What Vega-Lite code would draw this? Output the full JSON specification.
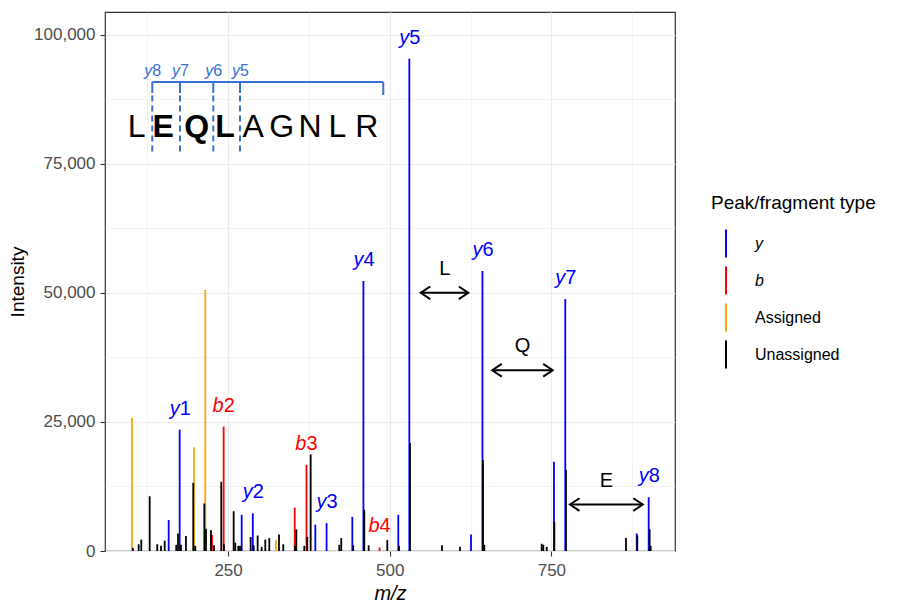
{
  "$schema": "https://vega.github.io/schema/vega-lite/v6.json",
  "width": 570,
  "height": 539,
  "autosize": {"type": "none"},
  "padding": {"left": 105, "top": 12, "right": 231, "bottom": 53},
  "background": "white",
  "config": {
    "font": "Liberation Sans",
    "view": {"stroke": "#333333", "strokeWidth": 1.2},
    "axis": {
      "domain": false,
      "tickColor": "#333333",
      "tickSize": 5,
      "tickWidth": 1.1,
      "labelColor": "#4D4D4D",
      "labelFontSize": 17,
      "labelFont": "Liberation Sans",
      "titleFont": "Liberation Sans",
      "titleFontWeight": "normal",
      "titleColor": "#000000",
      "titleFontSize": 19,
      "gridColor": "#EBEBEB",
      "labelPadding": 4
    },
    "text": {"font": "Liberation Sans"}
  },
  "datasets": {
    "peaks": [
      {"mz": 158.1, "intensity": 6000, "type": "y"},
      {"mz": 175.1, "intensity": 23500, "type": "y", "num": "1"},
      {"mz": 271.0, "intensity": 7000, "type": "y"},
      {"mz": 288.2, "intensity": 7300, "type": "y", "num": "2"},
      {"mz": 384.9, "intensity": 5100, "type": "y"},
      {"mz": 402.3, "intensity": 5400, "type": "y", "num": "3"},
      {"mz": 442.1, "intensity": 6600, "type": "y"},
      {"mz": 459.3, "intensity": 52300, "type": "y", "num": "4"},
      {"mz": 513.2, "intensity": 7000, "type": "y"},
      {"mz": 530.3, "intensity": 95300, "type": "y", "num": "5"},
      {"mz": 625.7, "intensity": 3200, "type": "y"},
      {"mz": 643.4, "intensity": 54200, "type": "y", "num": "6"},
      {"mz": 754.0, "intensity": 17300, "type": "y"},
      {"mz": 771.5, "intensity": 48800, "type": "y", "num": "7"},
      {"mz": 882.0, "intensity": 3400, "type": "y"},
      {"mz": 900.5, "intensity": 10400, "type": "y", "num": "8"},
      {"mz": 225.1, "intensity": 3100, "type": "b"},
      {"mz": 243.1, "intensity": 24100, "type": "b", "num": "2"},
      {"mz": 353.0, "intensity": 8400, "type": "b"},
      {"mz": 371.2, "intensity": 16700, "type": "b", "num": "3"},
      {"mz": 484.3, "intensity": 700, "type": "b", "num": "4"},
      {"mz": 101.3, "intensity": 25800, "type": "Assigned"},
      {"mz": 197.2, "intensity": 20100, "type": "Assigned"},
      {"mz": 214.7, "intensity": 50600, "type": "Assigned"},
      {"mz": 324.0, "intensity": 2200, "type": "Assigned"},
      {"mz": 102.7, "intensity": 600, "type": "Unassigned"},
      {"mz": 111.7, "intensity": 1300, "type": "Unassigned"},
      {"mz": 115.7, "intensity": 2200, "type": "Unassigned"},
      {"mz": 128.7, "intensity": 10600, "type": "Unassigned"},
      {"mz": 140.4, "intensity": 1300, "type": "Unassigned"},
      {"mz": 146.2, "intensity": 1000, "type": "Unassigned"},
      {"mz": 151.9, "intensity": 2000, "type": "Unassigned"},
      {"mz": 169.8, "intensity": 1200, "type": "Unassigned"},
      {"mz": 172.5, "intensity": 3400, "type": "Unassigned"},
      {"mz": 177.1, "intensity": 1200, "type": "Unassigned"},
      {"mz": 184.8, "intensity": 2900, "type": "Unassigned"},
      {"mz": 196.1, "intensity": 13200, "type": "Unassigned"},
      {"mz": 199.2, "intensity": 1000, "type": "Unassigned"},
      {"mz": 213.2, "intensity": 9200, "type": "Unassigned"},
      {"mz": 215.8, "intensity": 4300, "type": "Unassigned"},
      {"mz": 223.5, "intensity": 4000, "type": "Unassigned"},
      {"mz": 228.2, "intensity": 1100, "type": "Unassigned"},
      {"mz": 239.4, "intensity": 13400, "type": "Unassigned"},
      {"mz": 243.6, "intensity": 1300, "type": "Unassigned"},
      {"mz": 258.6, "intensity": 7700, "type": "Unassigned"},
      {"mz": 261.1, "intensity": 1600, "type": "Unassigned"},
      {"mz": 265.7, "intensity": 1000, "type": "Unassigned"},
      {"mz": 268.4, "intensity": 1000, "type": "Unassigned"},
      {"mz": 284.9, "intensity": 2700, "type": "Unassigned"},
      {"mz": 289.6, "intensity": 1100, "type": "Unassigned"},
      {"mz": 295.7, "intensity": 3000, "type": "Unassigned"},
      {"mz": 301.9, "intensity": 800, "type": "Unassigned"},
      {"mz": 307.5, "intensity": 2200, "type": "Unassigned"},
      {"mz": 313.7, "intensity": 2500, "type": "Unassigned"},
      {"mz": 328.7, "intensity": 3200, "type": "Unassigned"},
      {"mz": 335.3, "intensity": 1300, "type": "Unassigned"},
      {"mz": 353.5, "intensity": 1000, "type": "Unassigned"},
      {"mz": 355.5, "intensity": 4200, "type": "Unassigned"},
      {"mz": 367.8, "intensity": 1000, "type": "Unassigned"},
      {"mz": 372.5, "intensity": 2700, "type": "Unassigned"},
      {"mz": 377.7, "intensity": 18700, "type": "Unassigned"},
      {"mz": 422.0, "intensity": 1200, "type": "Unassigned"},
      {"mz": 425.0, "intensity": 2500, "type": "Unassigned"},
      {"mz": 443.6, "intensity": 1100, "type": "Unassigned"},
      {"mz": 460.6, "intensity": 8000, "type": "Unassigned"},
      {"mz": 467.4, "intensity": 1100, "type": "Unassigned"},
      {"mz": 496.2, "intensity": 2100, "type": "Unassigned"},
      {"mz": 514.3, "intensity": 1000, "type": "Unassigned"},
      {"mz": 531.3, "intensity": 20900, "type": "Unassigned"},
      {"mz": 580.8, "intensity": 1100, "type": "Unassigned"},
      {"mz": 608.7, "intensity": 800, "type": "Unassigned"},
      {"mz": 644.2, "intensity": 17600, "type": "Unassigned"},
      {"mz": 646.3, "intensity": 1200, "type": "Unassigned"},
      {"mz": 735.0, "intensity": 1400, "type": "Unassigned"},
      {"mz": 737.5, "intensity": 1200, "type": "Unassigned"},
      {"mz": 742.8, "intensity": 800, "type": "Unassigned"},
      {"mz": 754.6, "intensity": 5600, "type": "Unassigned"},
      {"mz": 772.6, "intensity": 15700, "type": "Unassigned"},
      {"mz": 865.4, "intensity": 2500, "type": "Unassigned"},
      {"mz": 882.9, "intensity": 3000, "type": "Unassigned"},
      {"mz": 902.0, "intensity": 4200, "type": "Unassigned"},
      {"mz": 903.6, "intensity": 1000, "type": "Unassigned"}
    ],
    "cuts": [
      {"pos": 132.7, "num": "8"},
      {"pos": 175.6, "num": "7"},
      {"pos": 227.1, "num": "6"},
      {"pos": 268.4, "num": "5"}
    ],
    "bracket": [
      {"start": 132.7, "end": 490.0}
    ],
    "peptide": [
      {"aa": "L", "pos": 108.6, "bold": false},
      {"aa": "E", "pos": 149.7, "bold": true},
      {"aa": "Q", "pos": 201.4, "bold": true},
      {"aa": "L", "pos": 245.2, "bold": true},
      {"aa": "A", "pos": 288.9, "bold": false},
      {"aa": "G", "pos": 332.9, "bold": false},
      {"aa": "N", "pos": 376.6, "bold": false},
      {"aa": "L", "pos": 418.9, "bold": false},
      {"aa": "R", "pos": 464.4, "bold": false}
    ],
    "arrows": [
      {"aa": "L", "from": 548.0, "to": 621.5, "mid": 585.0, "level": 50000},
      {"aa": "Q", "from": 658.6, "to": 752.0, "mid": 705.3, "level": 35000},
      {"aa": "E", "from": 778.8, "to": 891.3, "mid": 835.0, "level": 9000}
    ]
  },
  "layer": [
    {
      "data": {"name": "peaks"},
      "mark": {"type": "rule", "strokeWidth": 1.8},
      "encoding": {
        "x": {
          "field": "mz",
          "type": "quantitative",
          "title": "m/z",
          "scale": {"domain": [59.6, 941.2], "nice": false, "zero": false},
          "axis": {
            "title": "m/z",
            "titleFontStyle": "italic",
            "titleFontSize": 20,
            "titlePadding": 5,
            "labelPadding": 6,
            "values": [125, 250, 375, 500, 625, 750, 875],
            "labelExpr": "datum.value % 250 === 0 ? format(datum.value, 'd') : ''",
            "tickOpacity": {"condition": {"test": "datum.value % 250 !== 0", "value": 0}, "value": 1},
            "gridWidth": {"condition": {"test": "datum.value % 250 !== 0", "value": 0.6}, "value": 1.2}
          }
        },
        "y": {
          "field": "intensity",
          "type": "quantitative",
          "title": "Intensity",
          "scale": {"domain": [0, 104375], "nice": false, "zero": true},
          "axis": {
            "title": "Intensity",
            "titlePadding": 6,
            "labelPadding": 5,
            "values": [0, 12500, 25000, 37500, 50000, 62500, 75000, 87500, 100000],
            "labelExpr": "datum.value % 25000 === 0 ? format(datum.value, ',') : ''",
            "tickOpacity": {"condition": {"test": "datum.value % 25000 !== 0", "value": 0}, "value": 1},
            "gridWidth": {"condition": {"test": "datum.value % 25000 !== 0", "value": 0.6}, "value": 1.2}
          }
        },
        "y2": {"datum": 0},
        "color": {
          "field": "type",
          "type": "nominal",
          "scale": {"domain": ["y", "b", "Assigned", "Unassigned"], "range": ["#0000FF", "#FF0000", "#FFA500", "#000000"]},
          "legend": {
            "title": "Peak/fragment type",
            "orient": "none",
            "legendX": 606,
            "legendY": 181.5,
            "padding": 0,
            "symbolType": "M0,-1L0,1",
            "symbolSize": 784,
            "symbolStrokeWidth": 2,
            "labelFontSize": 16,
            "labelColor": "#000000",
            "labelOffset": 14,
            "titleFontSize": 19,
            "titleFontWeight": "normal",
            "titleColor": "#000000",
            "titlePadding": 16,
            "rowPadding": 1,
            "encode": {"labels": {"update": {"fontStyle": {"signal": "datum.label === 'y' || datum.label === 'b' ? 'italic' : 'normal'"}}}}
          }
        }
      }
    },
    {
      "data": {"name": "peaks"},
      "transform": [{"filter": "isValid(datum.num)"}],
      "mark": {"type": "text", "align": "right", "baseline": "middle", "dy": -21, "fontSize": 20, "fontStyle": "italic"},
      "encoding": {
        "x": {"field": "mz", "type": "quantitative", "title": "m/z"},
        "y": {"field": "intensity", "type": "quantitative", "title": "Intensity"},
        "text": {"field": "type"},
        "color": {"condition": {"test": "datum.type === 'y'", "value": "#0000FF"}, "value": "#FF0000"}
      }
    },
    {
      "data": {"name": "peaks"},
      "transform": [{"filter": "isValid(datum.num)"}],
      "mark": {"type": "text", "align": "left", "baseline": "middle", "dy": -21, "fontSize": 20},
      "encoding": {
        "x": {"field": "mz", "type": "quantitative", "title": "m/z"},
        "y": {"field": "intensity", "type": "quantitative", "title": "Intensity"},
        "text": {"field": "num"},
        "color": {"condition": {"test": "datum.type === 'y'", "value": "#0000FF"}, "value": "#FF0000"}
      }
    },
    {
      "data": {"name": "bracket"},
      "mark": {"type": "rule", "strokeWidth": 2, "color": "#3A6FD2"},
      "encoding": {
        "x": {"field": "start", "type": "quantitative", "title": "m/z"},
        "x2": {"field": "end"},
        "y": {"datum": 90800, "type": "quantitative", "title": "Intensity"}
      }
    },
    {
      "data": {"name": "bracket"},
      "mark": {"type": "rule", "strokeWidth": 2, "color": "#3A6FD2"},
      "encoding": {
        "x": {"field": "end", "type": "quantitative", "title": "m/z"},
        "y": {"datum": 90800, "type": "quantitative", "title": "Intensity"},
        "y2": {"datum": 88300}
      }
    },
    {
      "data": {"name": "cuts"},
      "mark": {"type": "rule", "strokeWidth": 2, "color": "#3A6FD2"},
      "encoding": {
        "x": {"field": "pos", "type": "quantitative", "title": "m/z"},
        "y": {"datum": 90800, "type": "quantitative", "title": "Intensity"},
        "y2": {"datum": 88700}
      }
    },
    {
      "data": {"name": "cuts"},
      "mark": {"type": "rule", "strokeWidth": 2, "color": "#3A6FD2", "strokeDash": [6, 4]},
      "encoding": {
        "x": {"field": "pos", "type": "quantitative", "title": "m/z"},
        "y": {"datum": 88200, "type": "quantitative", "title": "Intensity"},
        "y2": {"datum": 76600}
      }
    },
    {
      "data": {"name": "cuts"},
      "mark": {"type": "text", "align": "right", "baseline": "middle", "fontSize": 16, "fontStyle": "italic", "color": "#3A6FD2"},
      "encoding": {
        "x": {"field": "pos", "type": "quantitative", "title": "m/z"},
        "y": {"datum": 92900, "type": "quantitative", "title": "Intensity"},
        "text": {"value": "y"}
      }
    },
    {
      "data": {"name": "cuts"},
      "mark": {"type": "text", "align": "left", "baseline": "middle", "fontSize": 16, "color": "#3A6FD2"},
      "encoding": {
        "x": {"field": "pos", "type": "quantitative", "title": "m/z"},
        "y": {"datum": 92900, "type": "quantitative", "title": "Intensity"},
        "text": {"field": "num"}
      }
    },
    {
      "data": {"name": "peptide"},
      "transform": [{"filter": "!datum.bold"}],
      "mark": {"type": "text", "align": "center", "baseline": "middle", "fontSize": 32, "color": "#000000"},
      "encoding": {
        "x": {"field": "pos", "type": "quantitative", "title": "m/z"},
        "y": {"datum": 82100, "type": "quantitative", "title": "Intensity"},
        "text": {"field": "aa"}
      }
    },
    {
      "data": {"name": "peptide"},
      "transform": [{"filter": "datum.bold"}],
      "mark": {"type": "text", "align": "center", "baseline": "middle", "fontSize": 32, "fontWeight": "bold", "color": "#000000"},
      "encoding": {
        "x": {"field": "pos", "type": "quantitative", "title": "m/z"},
        "y": {"datum": 82100, "type": "quantitative", "title": "Intensity"},
        "text": {"field": "aa"}
      }
    },
    {
      "data": {"name": "arrows"},
      "mark": {"type": "rule", "strokeWidth": 2, "color": "#000000"},
      "encoding": {
        "x": {"field": "from", "type": "quantitative", "title": "m/z"},
        "x2": {"field": "to"},
        "y": {"field": "level", "type": "quantitative", "title": "Intensity"}
      }
    },
    {
      "data": {"name": "arrows"},
      "mark": {"type": "point", "shape": "M1.5,-1L0,0L1.5,1", "size": 159, "filled": false, "strokeWidth": 2, "color": "#000000", "opacity": 1},
      "encoding": {
        "x": {"field": "from", "type": "quantitative", "title": "m/z"},
        "y": {"field": "level", "type": "quantitative", "title": "Intensity"}
      }
    },
    {
      "data": {"name": "arrows"},
      "mark": {"type": "point", "shape": "M-1.5,-1L0,0L-1.5,1", "size": 159, "filled": false, "strokeWidth": 2, "color": "#000000", "opacity": 1},
      "encoding": {
        "x": {"field": "to", "type": "quantitative", "title": "m/z"},
        "y": {"field": "level", "type": "quantitative", "title": "Intensity"}
      }
    },
    {
      "data": {"name": "arrows"},
      "mark": {"type": "text", "align": "center", "baseline": "middle", "dy": -24, "fontSize": 20, "color": "#000000"},
      "encoding": {
        "x": {"field": "mid", "type": "quantitative", "title": "m/z"},
        "y": {"field": "level", "type": "quantitative", "title": "Intensity"},
        "text": {"field": "aa"}
      }
    }
  ]
}
